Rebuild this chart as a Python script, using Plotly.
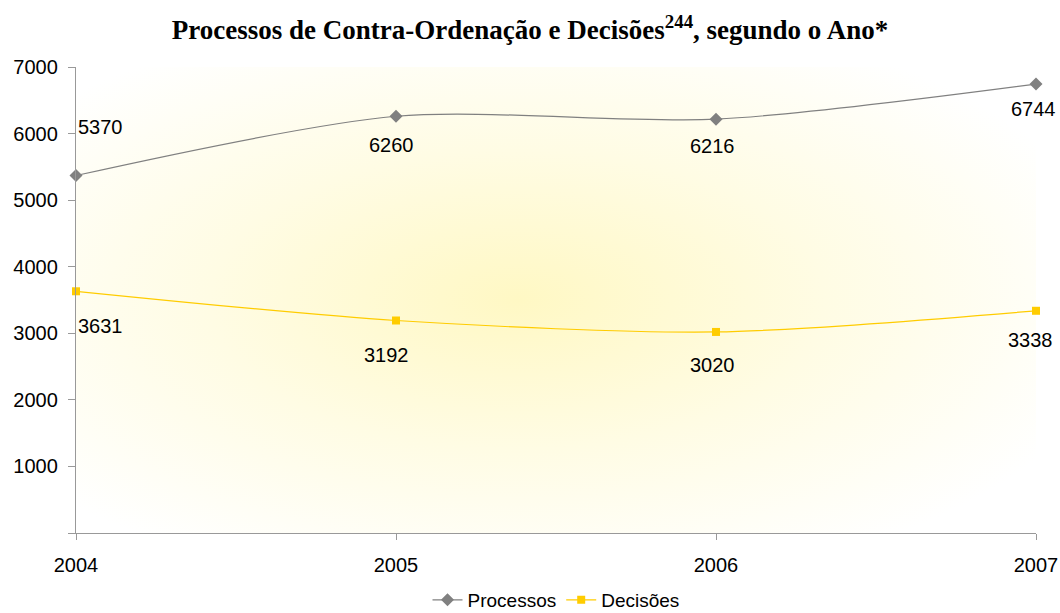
import base64
import plotly.graph_objects as go

anos = [2004, 2005, 2006, 2007]
processos = [5370, 6260, 6216, 6744]
decisoes = [3631, 3192, 3020, 3338]
y_ticks = [0, 1000, 2000, 3000, 4000, 5000, 6000, 7000]
y_tick_labels = ["", "1000", "2000", "3000", "4000", "5000", "6000", "7000"]

# label offsets in pixels (x, y) relative to each point
proc_offsets = [(24, 49), (-5, -29), (-4, -27), (-3, -25)]
dec_offsets = [(24, -35), (-10, -34), (-4, -33), (-6, -29)]

svg = """<svg xmlns='http://www.w3.org/2000/svg' width='960' height='466' viewBox='0 0 960 466' preserveAspectRatio='none'>
<defs><radialGradient id='g' cx='0.46' cy='0.5' r='0.64' gradientUnits='objectBoundingBox'>
<stop offset='0' stop-color='#FFF8C4'/><stop offset='0.5' stop-color='#FFFCE4'/><stop offset='1' stop-color='#FFFFFF'/>
</radialGradient></defs><rect width='960' height='466' fill='url(#g)'/></svg>"""
bg = "data:image/svg+xml;base64," + base64.b64encode(svg.encode()).decode()

font = "Liberation Sans, Arial, sans-serif"
fs = 20

fig = go.Figure()
fig.add_trace(go.Scatter(
    x=anos, y=processos, name="Processos", mode="lines+markers",
    line=dict(color="#808080", width=1.2, shape="spline", smoothing=0.8),
    marker=dict(symbol="diamond", size=10, color="#808080"),
    cliponaxis=False,
))
fig.add_trace(go.Scatter(
    x=anos, y=decisoes, name="Decisões", mode="lines+markers",
    line=dict(color="#FFCC00", width=1.2, shape="spline", smoothing=0.8),
    marker=dict(symbol="square", size=8, color="#FFCC00"),
    cliponaxis=False,
))

for xs, ys, offs in ((anos, processos, proc_offsets), (anos, decisoes, dec_offsets)):
    for xv, yv, (dx, dy) in zip(xs, ys, offs):
        fig.add_annotation(x=xv, y=yv, text=str(yv), showarrow=False,
                           xshift=dx, yshift=dy, xanchor="center", yanchor="middle",
                           font=dict(family=font, size=fs, color="#000"))

fig.update_layout(
    width=1060, height=613,
    margin=dict(l=76, r=24, t=67, b=80, autoexpand=False),
    paper_bgcolor="white", plot_bgcolor="rgba(0,0,0,0)",
    title=dict(text="<b>Processos de Contra-Ordenação e Decisões<sup>244</sup>, segundo o Ano*</b>",
               x=0.5, xanchor="center", y=1 - 30 / 613, yanchor="middle",
               font=dict(family="Liberation Serif, Times New Roman, serif", size=27, color="#000")),
    font=dict(family=font, size=fs, color="#000"),
    showlegend=True,
    legend=dict(orientation="h", x=0.5, xanchor="center", yref="container",
                y=(613 - 600) / 613, yanchor="middle",
                font=dict(family=font, size=19, color="#000"), bgcolor="rgba(0,0,0,0)"),
    images=[dict(source=bg, xref="paper", yref="paper", x=0, y=1, sizex=1, sizey=1,
                 sizing="stretch", layer="below", xanchor="left", yanchor="top")],
)
fig.update_xaxes(range=[2004, 2007], tickvals=anos, ticktext=[str(a) for a in anos],
                 automargin=False,
                 showgrid=False, zeroline=False, showline=True, linecolor="#999999", linewidth=1.3,
                 ticks="outside", ticklen=6, tickcolor="#999999", ticklabelstandoff=8,
                 tickfont=dict(family=font, size=fs, color="#000"))
fig.update_yaxes(range=[0, 7000], tickvals=y_ticks, ticktext=y_tick_labels,
                 automargin=False,
                 showgrid=False, zeroline=False, showline=True, linecolor="#999999", linewidth=1.3,
                 ticks="outside", ticklen=7, tickcolor="#999999", ticklabelstandoff=6,
                 tickfont=dict(family=font, size=fs, color="#000"))

fig.write_html("out.html", config={"displayModeBar": False},
               post_script="document.body.style.margin='0';")
